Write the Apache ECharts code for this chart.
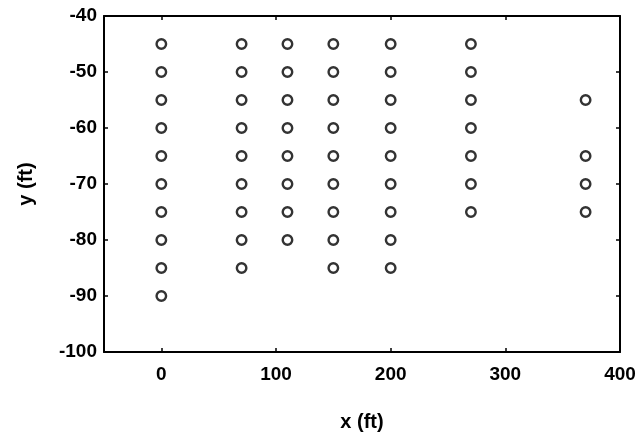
<!DOCTYPE html>
<html>
<head>
<meta charset="utf-8">
<script src="https://cdn.jsdelivr.net/npm/echarts@6/dist/echarts.min.js"></script>
<style>
html,body{margin:0;padding:0;background:#fff;}
#c{width:644px;height:437px;}
</style>
</head>
<body>
<div id="c"></div>
<script>
// Data (x in ft, y in ft)
const colX = [0, 70, 110, 150, 200, 270, 370];
const colY = [
  [-45, -50, -55, -60, -65, -70, -75, -80, -85, -90],
  [-45, -50, -55, -60, -65, -70, -75, -80, -85],
  [-45, -50, -55, -60, -65, -70, -75, -80],
  [-45, -50, -55, -60, -65, -70, -75, -80, -85],
  [-45, -50, -55, -60, -65, -70, -75, -80, -85],
  [-45, -50, -55, -60, -65, -70, -75],
  [-55, -65, -70, -75]
];
const xTicks = [0, 100, 200, 300, 400];
const yTicks = [-40, -50, -60, -70, -80, -90, -100];

const points = [];
colX.forEach((x, i) => colY[i].forEach(y => points.push([x, y])));

const font = {fontFamily: 'Liberation Sans, Arial, sans-serif', fontWeight: 'bold', fontSize: 19, color: '#000'};
const lineStyle = {color: '#000', width: 2};
const tickStyle = {color: '#000', width: 1.5};

const chart = echarts.init(document.getElementById('c'), null, {renderer: 'canvas'});
chart.setOption({
  animation: false,
  backgroundColor: '#fff',
  grid: {left: 104, top: 16, right: 24, bottom: 82, containLabel: false},
  xAxis: [{
    type: 'value', min: -50, max: 400, interval: 50,
    name: 'x (ft)', nameLocation: 'middle', nameGap: 60,
    nameTextStyle: Object.assign({}, font, {fontSize: 20}),
    axisLine: {show: true, onZero: false, lineStyle: lineStyle},
    axisTick: {show: true, inside: true, length: 4, lineStyle: tickStyle, customValues: xTicks},
    axisLabel: Object.assign({}, font, {margin: 13, customValues: xTicks}),
    splitLine: {show: false}
  }, {
    type: 'value', position: 'top', min: -50, max: 400, interval: 50,
    axisLine: {show: true, onZero: false, lineStyle: lineStyle},
    axisTick: {show: true, inside: true, length: 4, lineStyle: tickStyle, customValues: xTicks},
    axisLabel: {show: false},
    splitLine: {show: false}
  }],
  yAxis: [{
    type: 'value', min: -100, max: -40, interval: 10,
    name: 'y (ft)', nameLocation: 'middle', nameGap: 68, nameRotate: 90,
    nameTextStyle: Object.assign({}, font, {fontSize: 20}),
    axisLine: {show: true, onZero: false, lineStyle: lineStyle},
    axisTick: {show: true, inside: true, length: 4, lineStyle: tickStyle, customValues: yTicks},
    axisLabel: Object.assign({}, font, {margin: 7, customValues: yTicks}),
    splitLine: {show: false}
  }, {
    type: 'value', position: 'right', min: -100, max: -40, interval: 10,
    axisLine: {show: true, onZero: false, lineStyle: lineStyle},
    axisTick: {show: true, inside: true, length: 4, lineStyle: tickStyle, customValues: yTicks},
    axisLabel: {show: false},
    splitLine: {show: false}
  }],
  series: [{
    type: 'scatter',
    xAxisIndex: 0, yAxisIndex: 0,
    data: points,
    symbol: 'circle',
    symbolSize: 9.5,
    itemStyle: {color: 'rgba(0,0,0,0)', borderColor: '#000', borderWidth: 2.4},
    emphasis: {disabled: true}
  }]
});
</script>
</body>
</html>
